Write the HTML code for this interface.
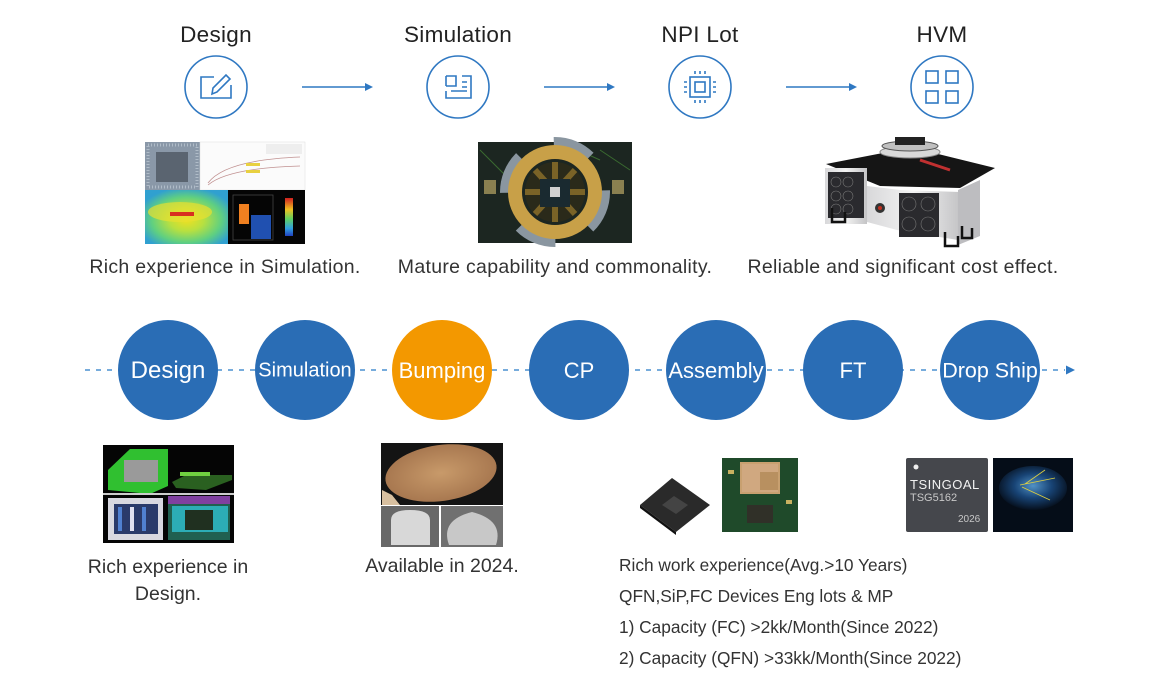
<!DOCTYPE html>
<html><head><meta charset="utf-8">
<style>
html,body{margin:0;padding:0;background:#fff;}
body{width:1160px;height:686px;position:relative;overflow:hidden;font-family:"Liberation Sans",sans-serif;}
.t{position:absolute;white-space:nowrap;color:#2b2b2b;}
.title{font-size:22.5px;color:#222;transform:translateX(-50%);top:22px;letter-spacing:0.3px;}
.cap{font-size:19.5px;color:#333;top:256px;transform:translateX(-50%);letter-spacing:0.3px;}
.cl{position:absolute;color:#fff;white-space:nowrap;transform:translate(-50%,-50%);top:371px;}
.ln{font-size:17.3px;color:#333;left:619px;}
svg{position:absolute;left:0;top:0;}
</style></head><body>
<svg width="1160" height="686" viewBox="0 0 1160 686">
<defs>
<radialGradient id="therm" cx="0.5" cy="0.55" r="0.6">
<stop offset="0" stop-color="#f0e020"/><stop offset="0.35" stop-color="#b8e040"/><stop offset="0.7" stop-color="#60d080"/><stop offset="1" stop-color="#30a0d0"/>
</radialGradient>
<linearGradient id="cbar" x1="0" y1="0" x2="0" y2="1">
<stop offset="0" stop-color="#d02020"/><stop offset="0.3" stop-color="#f0c020"/><stop offset="0.55" stop-color="#60d060"/><stop offset="0.8" stop-color="#30a0e0"/><stop offset="1" stop-color="#2040c0"/>
</linearGradient>
<radialGradient id="wafer" cx="0.5" cy="0.5" r="0.5">
<stop offset="0" stop-color="#c89a6a"/><stop offset="1" stop-color="#a87850"/>
</radialGradient>
<radialGradient id="globe" cx="0.5" cy="0.45" r="0.55">
<stop offset="0" stop-color="#5aa0d8"/><stop offset="0.5" stop-color="#1a4a80"/><stop offset="1" stop-color="#06101e"/>
</radialGradient>
<linearGradient id="metal" x1="0" y1="0" x2="1" y2="0">
<stop offset="0" stop-color="#d8d8da"/><stop offset="0.5" stop-color="#f2f2f2"/><stop offset="1" stop-color="#c4c4c6"/>
</linearGradient>
</defs>

<!-- top icons -->
<g fill="none" stroke="#2f78c2" stroke-width="1.6">
<circle cx="216" cy="87" r="31"/>
<circle cx="458" cy="87" r="31"/>
<circle cx="700" cy="87" r="31"/>
<circle cx="942" cy="87" r="31"/>
<path d="M214 77 H201 V98 H231 V85"/>
<path d="M212 94 L213 88 L226 75 L230 79 L217 92 Z"/>
<path d="M446 76 H456 V86 H446"/>
<path d="M446 76 V86"/>
<path d="M462 76 H471 V98 H446 V91"/>
<path d="M462 82 H467 M462 87 H467 M451 91 H467"/>
<rect x="690" y="77" width="20" height="20"/>
<rect x="695" y="82" width="10" height="10"/>
<path d="M695 71 V74 M700 71 V74 M705 71 V74 M695 100 V103 M700 100 V103 M705 100 V103 M684 82 H687 M684 87 H687 M684 92 H687 M713 82 H716 M713 87 H716 M713 92 H716"/>
<rect x="926" y="71" width="12" height="12"/>
<rect x="946" y="71" width="12" height="12"/>
<rect x="926" y="91" width="12" height="12"/>
<rect x="946" y="91" width="12" height="12"/>
</g>
<g stroke="#2f78c2" stroke-width="1.4">
<line x1="302" y1="87" x2="366" y2="87"/>
<line x1="544" y1="87" x2="608" y2="87"/>
<line x1="786" y1="87" x2="850" y2="87"/>
</g>
<g fill="#2f78c2">
<path d="M365 83 L373 87 L365 91Z"/>
<path d="M607 83 L615 87 L607 91Z"/>
<path d="M849 83 L857 87 L849 91Z"/>
</g>

<!-- sim collage -->
<rect x="145" y="142" width="55" height="48" fill="#8a98a8"/>
<rect x="156" y="152" width="32" height="30" fill="#5a6470"/>
<rect x="148" y="145" width="49" height="42" fill="none" stroke="#b0bcc8" stroke-width="3" stroke-dasharray="1 2"/>
<rect x="200" y="142" width="105" height="48" fill="#fbfbfb" stroke="#ddd" stroke-width="0.5"/>
<path d="M208 183 Q225 160 300 157" stroke="#c09090" fill="none" stroke-width="0.8"/>
<path d="M208 185 Q228 168 300 166" stroke="#c09090" fill="none" stroke-width="0.8"/>
<rect x="246" y="163" width="14" height="3" fill="#e8d040"/>
<rect x="246" y="170" width="14" height="3" fill="#e8d040"/>
<rect x="266" y="144" width="36" height="10" fill="#eee"/>
<rect x="145" y="190" width="83" height="54" fill="url(#therm)"/>
<ellipse cx="180" cy="212" rx="32" ry="10" fill="#e8e030" opacity="0.7"/>
<rect x="170" y="212" width="24" height="4" fill="#d83020"/>
<rect x="228" y="190" width="77" height="54" fill="#050505"/>
<rect x="239" y="204" width="10" height="20" fill="#f08020"/>
<rect x="251" y="215" width="20" height="24" fill="#2050b0"/>
<rect x="285" y="198" width="8" height="38" fill="url(#cbar)"/>
<rect x="233" y="195" width="40" height="45" fill="none" stroke="#444" stroke-width="0.8"/>

<!-- probe card -->
<rect x="478" y="142" width="154" height="101" fill="#1c2621"/>
<path d="M480 150 L520 190 M600 150 L630 170 M560 142 L600 160" stroke="#3a6a30" stroke-width="1"/>
<circle cx="555" cy="192" r="50" fill="none" stroke="#8a96a0" stroke-width="10" stroke-dasharray="40 38"/>
<circle cx="555" cy="192" r="40" fill="none" stroke="#c8a048" stroke-width="14"/>
<circle cx="555" cy="192" r="30" fill="#2a2a1a"/>
<path d="M535 170 L575 214 M575 170 L535 214 M525 192 H585 M555 162 V222" stroke="#b08a30" stroke-width="6" opacity="0.6"/>
<rect x="540" y="179" width="30" height="28" fill="#1a2a30"/>
<rect x="550" y="187" width="10" height="10" fill="#d0d0d0"/>
<rect x="484" y="180" width="12" height="14" fill="#8a8050"/>
<rect x="612" y="180" width="12" height="14" fill="#8a8050"/>

<!-- HVM machine -->
<polygon points="826,164 888,152 930,152 995,168 960,188 880,186" fill="#151515"/>
<rect x="825" y="168" width="42" height="56" fill="url(#metal)"/>
<polygon points="867,186 900,190 960,192 958,240 897,230 867,222" fill="url(#metal)"/>
<polygon points="958,190 980,180 980,236 958,245" fill="#bdbdc0"/>
<rect x="828" y="172" width="36" height="46" fill="#2a2a2e"/>
<rect x="899" y="193" width="40" height="44" fill="#2a2a2e"/>
<g fill="none" stroke="#777" stroke-width="0.6">
<circle cx="836" cy="182" r="5"/><circle cx="848" cy="182" r="5"/><circle cx="836" cy="196" r="5"/><circle cx="848" cy="196" r="5"/><circle cx="836" cy="209" r="5"/><circle cx="848" cy="209" r="5"/>
<circle cx="909" cy="204" r="7"/><circle cx="928" cy="204" r="7"/><circle cx="909" cy="224" r="7"/><circle cx="928" cy="224" r="7"/>
</g>
<circle cx="880" cy="208" r="5" fill="#333"/>
<circle cx="880" cy="208" r="2" fill="#c03020"/>
<ellipse cx="910" cy="152" rx="30" ry="6" fill="#d8d8d8" stroke="#888"/>
<ellipse cx="910" cy="146" rx="28" ry="5" fill="#c0c0c0" stroke="#555"/>
<rect x="895" y="137" width="30" height="8" fill="#222"/>
<path d="M920 160 L950 170" stroke="#c03030" stroke-width="3"/>
<path d="M832 208 V222 H845 V212" fill="none" stroke="#111" stroke-width="2.5"/>
<path d="M945 232 V246 H958 V236" fill="none" stroke="#111" stroke-width="2.5"/>
<path d="M962 226 V238 H972 V228" fill="none" stroke="#111" stroke-width="2.5"/>

<!-- dashed timeline -->
<line x1="85" y1="370" x2="1065" y2="370" stroke="#4a90d0" stroke-width="1.4" stroke-dasharray="5 6"/>
<path d="M1066 365.5 L1075 370 L1066 374.5Z" fill="#2f78c2"/>
<g fill="#2a6db5">
<circle cx="168" cy="370" r="50"/>
<circle cx="305" cy="370" r="50"/>
<circle cx="442" cy="370" r="50" fill="#f39800"/>
<circle cx="579" cy="370" r="50"/>
<circle cx="716" cy="370" r="50"/>
<circle cx="853" cy="370" r="50"/>
<circle cx="990" cy="370" r="50"/>
</g>

<!-- design collage -->
<rect x="103" y="445" width="131" height="98" fill="#050505"/>
<polygon points="108,470 130,449 168,449 168,486 150,494 108,490" fill="#30c030"/>
<rect x="124" y="460" width="34" height="22" fill="#9a9a9a"/>
<polygon points="172,482 186,475 232,475 232,480 206,490 176,488" fill="#2a6020"/>
<rect x="180" y="472" width="30" height="4" fill="#70d040"/>
<rect x="103" y="493" width="131" height="2" fill="#ccc"/>
<rect x="108" y="498" width="55" height="42" fill="#d8d8e0"/>
<rect x="114" y="504" width="44" height="30" fill="#2a3a6a"/>
<rect x="118" y="507" width="4" height="24" fill="#5080d0"/>
<rect x="130" y="507" width="4" height="24" fill="#e0e0f0"/>
<rect x="142" y="507" width="4" height="24" fill="#5080d0"/>
<rect x="168" y="496" width="62" height="44" fill="#206050"/>
<rect x="168" y="496" width="62" height="8" fill="#8040a0"/>
<rect x="172" y="506" width="56" height="26" fill="#30c0d0" opacity="0.8"/>
<rect x="185" y="510" width="28" height="20" fill="#203020"/>

<!-- bumping -->
<rect x="381" y="443" width="122" height="62" fill="#141414"/>
<ellipse cx="441" cy="473" rx="56" ry="28" fill="url(#wafer)" transform="rotate(-8 441 473)"/>
<path d="M392 495 L400 505 H382 V490Z" fill="#d8c0a0"/>
<rect x="381" y="506" width="58" height="41" fill="#686868"/>
<path d="M391 545 V520 Q391 510 410 510 Q430 510 430 520 V545Z" fill="#d8d8d8"/>
<rect x="441" y="506" width="62" height="41" fill="#707070"/>
<path d="M449 545 Q440 520 472 512 Q504 520 496 545Z" fill="#c8c8c8"/>

<!-- assembly -->
<polygon points="640,505 672,478 710,505 676,532" fill="#2a2a2a"/>
<polygon points="640,505 676,532 676,535 640,508" fill="#111"/>
<polygon points="662,505 674,496 688,505 676,514" fill="#444"/>
<rect x="722" y="458" width="76" height="74" fill="#1f4a2a"/>
<rect x="740" y="462" width="40" height="32" fill="#c8a070"/>
<rect x="742" y="464" width="36" height="28" fill="#d0a880"/>
<rect x="760" y="472" width="18" height="18" fill="#b89060"/>
<rect x="747" y="505" width="26" height="18" fill="#303028"/>
<rect x="728" y="470" width="6" height="4" fill="#c8b060"/>
<rect x="786" y="500" width="6" height="4" fill="#c8b060"/>

<!-- drop ship -->
<rect x="906" y="458" width="82" height="74" rx="2" fill="#45474c"/>
<circle cx="916" cy="467" r="2.5" fill="#eee"/>
<rect x="993" y="458" width="80" height="74" fill="#050d18"/>
<ellipse cx="1033" cy="488" rx="34" ry="22" fill="url(#globe)" opacity="0.9"/>
<path d="M1020 485 L1055 478 M1022 487 L1050 500 M1025 484 L1045 470" stroke="#e0d040" stroke-width="0.8"/>
</svg>

<div class="t title" style="left:216px;">Design</div>
<div class="t title" style="left:458px;">Simulation</div>
<div class="t title" style="left:700px;">NPI Lot</div>
<div class="t title" style="left:942px;">HVM</div>

<div class="t cap" style="left:225px;">Rich experience in Simulation.</div>
<div class="t cap" style="left:555px;">Mature capability and commonality.</div>
<div class="t cap" style="left:903px;">Reliable and significant cost effect.</div>

<div class="cl" style="left:168px;font-size:24px;">Design</div>
<div class="cl" style="left:305px;font-size:20px;">Simulation</div>
<div class="cl" style="left:442px;font-size:22px;">Bumping</div>
<div class="cl" style="left:579px;font-size:22px;">CP</div>
<div class="cl" style="left:716px;font-size:22px;">Assembly</div>
<div class="cl" style="left:853px;font-size:22px;">FT</div>
<div class="cl" style="left:990px;font-size:21.5px;">Drop Ship</div>

<div class="t" style="left:910px;top:477px;font-size:13px;color:#f2f2f2;letter-spacing:0.5px;">TSINGOAL</div>
<div class="t" style="left:910px;top:492px;font-size:11px;color:#c8c8c8;">TSG5162</div>
<div class="t" style="left:958px;top:514px;font-size:10px;color:#c8c8c8;">2026</div>

<div class="t" style="left:168px;top:554px;font-size:19.5px;color:#333;transform:translateX(-50%);text-align:center;line-height:27px;">Rich experience in<br>Design.</div>
<div class="t" style="left:442px;top:555px;font-size:19.5px;color:#333;transform:translateX(-50%);">Available in 2024.</div>

<div class="t ln" style="top:555px;">Rich work experience(Avg.&gt;10 Years)</div>
<div class="t ln" style="top:586px;">QFN,SiP,FC Devices Eng lots &amp; MP</div>
<div class="t ln" style="top:617px;">1) Capacity (FC) &gt;2kk/Month(Since 2022)</div>
<div class="t ln" style="top:648px;">2) Capacity (QFN) &gt;33kk/Month(Since 2022)</div>
</body></html>
